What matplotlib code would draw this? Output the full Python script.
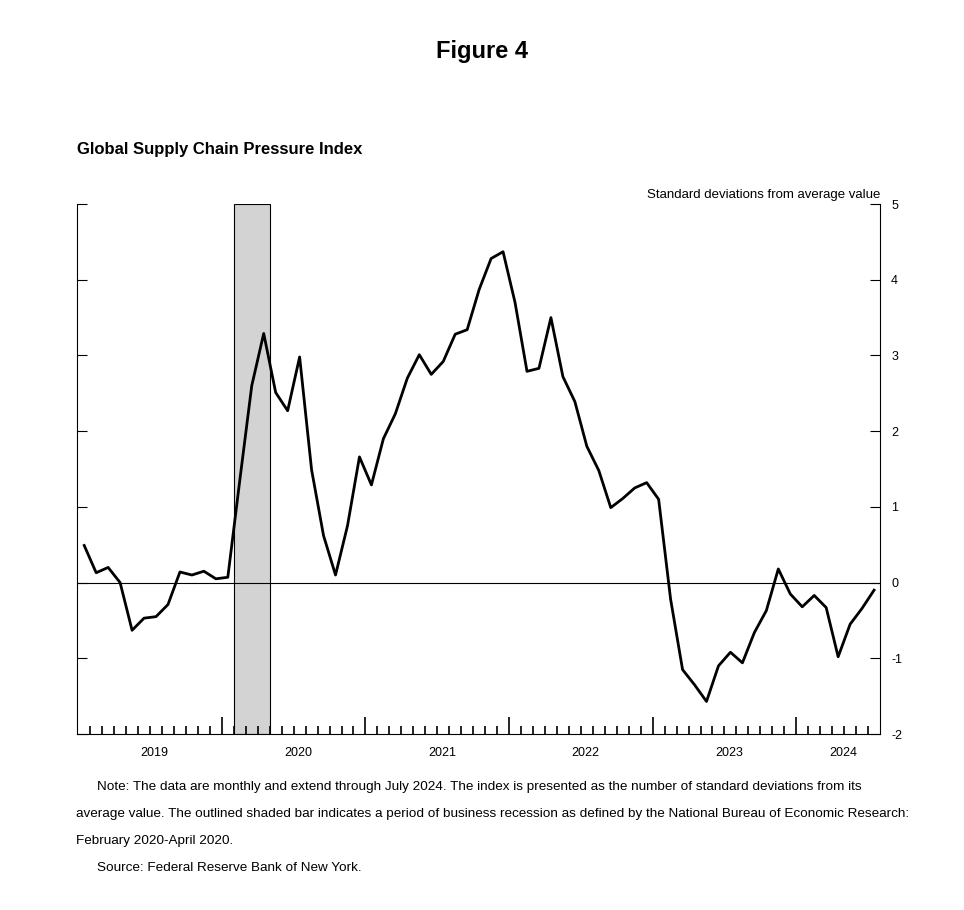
import matplotlib.pyplot as plt
import numpy as np

plt.rcParams['font.family'] = ['Liberation Sans', 'DejaVu Sans']

# monthly GSCPI, Jan 2019 - Jul 2024
gscpi = [0.49, 0.13, 0.20, 0.00, -0.63, -0.47, -0.45, -0.29, 0.14, 0.10, 0.15, 0.05,
         0.07, 1.35, 2.60, 3.29, 2.51, 2.27, 2.98, 1.49, 0.62, 0.10, 0.75, 1.66,
         1.29, 1.90, 2.23, 2.70, 3.01, 2.75, 2.92, 3.28, 3.34, 3.87, 4.28, 4.37,
         3.70, 2.79, 2.83, 3.50, 2.72, 2.39, 1.80, 1.48, 0.99, 1.11, 1.25, 1.32,
         1.10, -0.22, -1.15, -1.35, -1.57, -1.10, -0.92, -1.06, -0.66, -0.37, 0.18, -0.15,
         -0.32, -0.17, -0.33, -0.98, -0.55, -0.34, -0.10]
years = ['2019', '2020', '2021', '2022', '2023', '2024']
recession = (13, 16)  # Feb 2020 - Apr 2020 (month index from Jan 2019)

fig = plt.figure(figsize=(9.64, 9.10), dpi=100)
ax = fig.add_axes([0.0799, 0.1934, 0.833, 0.5824])

x = np.arange(len(gscpi)) + 0.5
ax.axvspan(recession[0], recession[1], facecolor='#d3d3d3', edgecolor='black', lw=0.8, zorder=1)
ax.axhline(0, color='black', lw=0.8, zorder=2)
ax.plot(x, gscpi, color='black', lw=2, zorder=3)

x0, x1 = -0.1, 67.0
ax.set_xlim(x0, x1)
ax.set_ylim(-2, 5)

ax.spines['top'].set_visible(False)
ax.yaxis.tick_right()
ax.set_yticks(range(-2, 6))
ax.set_yticklabels([str(v) for v in range(-2, 6)])
ax.tick_params(axis='y', which='both', direction='in', length=7, labelsize=9, pad=8,
               left=True, right=True, labelleft=False, labelright=True)

ax.set_xticks(np.arange(12, 67, 12))
ax.set_xticks(np.arange(1, 67), minor=True)
ax.set_xticklabels([])
ax.tick_params(axis='x', which='major', direction='in', length=12, width=1.2)
ax.tick_params(axis='x', which='minor', direction='in', length=6, width=1.2)
for i, yr in enumerate(years):
    lo, hi = max(i * 12, x0), min(i * 12 + 12, x1)
    ax.text((lo + hi) / 2 + 0.4, -2.25, yr, ha='center', va='center', fontsize=9)

ax.text(1.0, 1.005, 'Standard deviations from average value', transform=ax.transAxes,
        ha='right', va='bottom', fontsize=9.5)

fig.text(0.5, 0.943, 'Figure 4', ha='center', va='center', fontsize=17, fontweight='bold')
fig.text(0.0799, 0.836, 'Global Supply Chain Pressure Index', ha='left', va='center',
         fontsize=12, fontweight='bold')

note_lines = [
    ("Note: The data are monthly and extend through July 2024. The index is presented as the number of standard deviations from its", 0.101),
    ("average value. The outlined shaded bar indicates a period of business recession as defined by the National Bureau of Economic Research:", 0.079),
    ("February 2020-April 2020.", 0.079),
    ("Source: Federal Reserve Bank of New York.", 0.101),
]
for k, (line, xpos) in enumerate(note_lines):
    fig.text(xpos, 1 - (787 + 27 * k) / 910, line, ha='left', va='center', fontsize=9.7)

fig.savefig('out.png', dpi=100)
